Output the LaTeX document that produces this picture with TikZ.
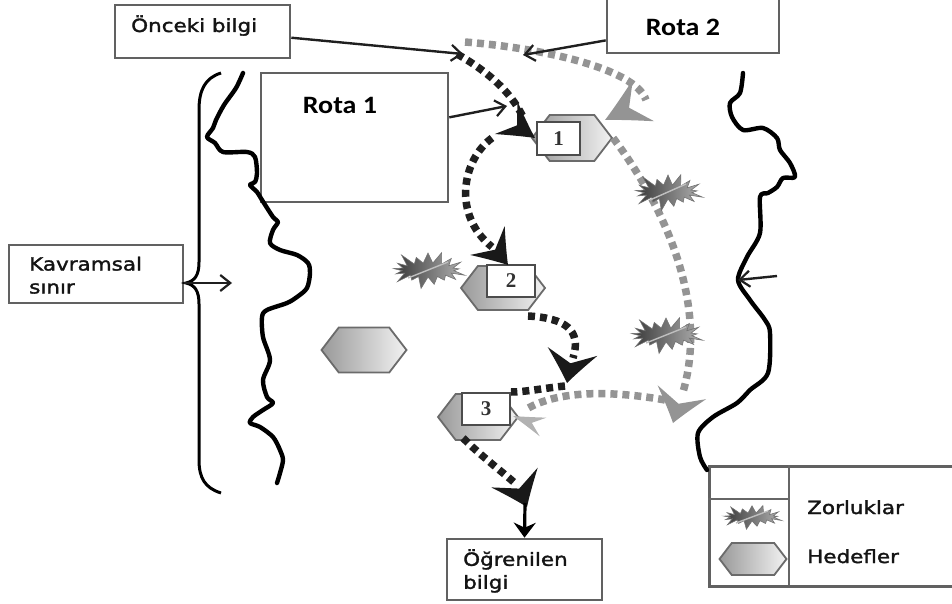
\documentclass[tikz,border=0pt]{standalone}
\usepackage{fontspec}
\setmainfont{DejaVu Sans}[FakeStretch=1.18,FakeBold=1.8]
\newfontfamily\rotafont{Carlito}[FakeStretch=1.12]
\newfontfamily\numfont{Liberation Serif}
\usetikzlibrary{arrows.meta,shapes.symbols}
\tikzset{
  barb/.pic={\fill[pic actions] (0,0) .. controls (-10,-5) and (-22,-12) .. (-32,-18) -- (-20,0) -- (-32,18) .. controls (-22,12) and (-10,5) .. (0,0) -- cycle;},
}
\begin{document}
\begin{tikzpicture}[x=1pt,y=-1pt,
  font=\fontsize{18.2}{23}\selectfont,
  box/.style={draw=black!62, line width=2.6pt, fill=white, inner sep=0pt},
  txt/.style={inner sep=0pt, text=black!92},
  rotatxt/.style={inner sep=0pt, font=\rotafont\bfseries\fontsize{25}{25}\selectfont},
  numbox/.style={draw=black!70, line width=2pt, fill=white, inner sep=0pt, font=\numfont\bfseries\fontsize{21}{21}\selectfont, text=black!80},
  hexa/.style={signal, signal to=west and east, signal pointer angle=105, draw=black!58, line width=1.8pt, left color=black!40, right color=black!5, inner sep=0pt},
  burst/.style={starburst, starburst points=17, starburst point height=14pt, draw=black!55, line width=0.6pt, left color=black!78, right color=black!30, inner sep=0pt},
  streak/.style={draw=white!75!black, line width=1.4pt},
  broute/.style={line width=7.5pt, draw=black!88, dash pattern=on 7pt off 5pt},
  groute/.style={line width=7.5pt, draw=black!42, dash pattern=on 7pt off 5pt},
  coast/.style={line width=4.4pt, line join=round, line cap=round},
  pointer/.style={line width=2.4pt, draw=black!88, -{Straight Barb[length=10pt,width=16pt,line width=2.2pt]}},
]
\useasboundingbox (0,0) rectangle (952,604);
\clip (0,0) rectangle (952,604);

% text boxes
\node[box, minimum width=175pt, minimum height=53pt] (onceki) at (202.5,31.5) {};
\node[txt, anchor=base west] (oncekit) at (131,32) {Önceki bilgi};
\node[box, minimum width=172pt, minimum height=56pt] (r2box) at (693,25) {};
\node[rotatxt] (r2) at (683,27) {Rota 2};
\node[box, minimum width=187pt, minimum height=129pt] (r1box) at (354.5,137.5) {};
\node[rotatxt] (r1) at (340,105) {Rota 1};
\node[box, minimum width=174pt, minimum height=58pt] (kav) at (96,274) {};
\node[txt, anchor=north west, align=left] (kavt) at (29,256.5) {Kavramsal\\sınır};
\node[box, minimum width=155pt, minimum height=61pt] (out) at (524.5,569.5) {};
\node[txt, anchor=north west, align=left] (outt) at (463,549) {Öğrenilen\\bilgi};

% legend
\node[box, minimum width=252pt, minimum height=120pt, anchor=north west] (legend) at (708,465) {};
\draw[line width=2.4pt, draw=black!60] (789,465) -- (789,585);
\draw[line width=2.4pt, draw=black!60] (708,499) -- (789,499);
\node[burst, minimum width=64pt, minimum height=28pt, starburst point height=10pt] (lstar) at (752,517) {};
\draw[streak] ([shift={(-16,6)}]lstar.center) -- ([shift={(16,-6)}]lstar.center);
\node[hexa, minimum width=67pt, minimum height=32pt] (lhex) at (753,559) {};
\node[txt, anchor=base west] (lz) at (807,514) {Zorluklar};
\node[txt, anchor=base west] (lh) at (807,563) {Hedefler};

% conceptual boundaries
\draw[coast] plot[smooth, tension=0.5] coordinates {(243,73) (236,88) (224,105) (216,120) (213,128) (207,137) (215,143) (223,152) (247,152) (255,157) (257,173) (255,182) (250,185) (257,192) (262,200) (273,217) (278,222) (273,230) (270,243) (280,250) (297,255) (308,263) (310,273) (307,288) (297,297) (287,303) (267,310) (262,317) (263,337) (270,360) (263,380) (267,397) (273,403) (263,410) (253,417) (250,423) (260,427) (273,437) (280,450) (283,460) (280,473) (277,483)};
\draw[coast] plot[smooth, tension=0.5] coordinates {(743,73) (740,93) (730,103) (732,117) (743,130) (763,128) (777,138) (780,150) (790,163) (795,177) (783,178) (777,187) (768,193) (760,197) (760,233) (747,257) (738,280) (750,300) (765,320) (770,333) (768,373) (750,390) (737,403) (713,417) (698,433) (700,457) (707,470)};
% brace
\draw[line width=3pt] (221,73) .. controls (205,78) and (199,90) .. (199,110) -- (199,262) .. controls (199,275) and (195,281) .. (186,283) .. controls (195,285) and (199,291) .. (199,304) -- (199,460) .. controls (199,478) and (205,488) .. (221,493);

% goals
\node[hexa, minimum width=85pt, minimum height=45pt] (hx) at (364,350) {};
\node[hexa, minimum width=80pt, minimum height=46pt] (h1) at (572,138) {};
\node[hexa, minimum width=84pt, minimum height=44pt] (h2) at (503,288) {};
\node[hexa, minimum width=80pt, minimum height=46pt] (h3) at (478,417) {};
\node[numbox, minimum width=43pt, minimum height=33pt] (n1) at (558.5,138.5) {1};
\node[numbox, minimum width=48pt, minimum height=32pt] (n2) at (511,281) {2};
\node[numbox, minimum width=48pt, minimum height=32pt] (n3) at (486,409) {3};

% route 2 (gray)
\coordinate (gs) at (465,42);
\coordinate (g1e) at (646,100);
\coordinate (g2e) at (683,392);
\coordinate (g3s) at (665,400);
\coordinate (g3e) at (525,410);
\draw[groute] (gs) .. controls (540,48) and (635,68) .. (g1e);
\pic[fill=black!42, rotate=-153, xscale=1.35, yscale=1.3] at (605,120) {barb};
\draw[groute] (h1.east) .. controls (660,200) and (710,300) .. (g2e);
\pic[fill=black!42, rotate=-106, yscale=1.4] at (673,423) {barb};
\draw[groute] (g3s) .. controls (620,392) and (560,388) .. (g3e);
\pic[fill=black!30, rotate=160, yscale=0.55] at (513,416) {barb};

% route 1 (black)
\coordinate (bs) at (457,54);
\coordinate (b1e) at (523,117);
\coordinate (b2s) at (492,138);
\coordinate (b2e) at (492,247);
\coordinate (b3s) at (528,316);
\coordinate (b3e) at (573,358);
\coordinate (b4s) at (565,386);
\coordinate (b5s) at (463,438);
\coordinate (b5e) at (516,484);
\coordinate (dtip) at (525,503);
\draw[broute] (bs) .. controls (485,70) and (510,90) .. (b1e);
\pic[fill=black!90, rotate=-35, scale=1.1] at (535,138) {barb};
\draw[broute] (b2s) .. controls (462,160) and (452,215) .. (b2e);
\pic[fill=black!90, rotate=-50, yscale=1.25] at (508,265) {barb};
\draw[broute] (b3s) .. controls (565,318) and (582,330) .. (b3e);
\pic[fill=black!90, rotate=-100, yscale=1.4] at (567,383) {barb};
\draw[broute] (b4s) .. controls (545,388) and (525,392) .. (n3.north east);
\draw[broute] (b5s) .. controls (480,455) and (500,470) .. (b5e);
\pic[fill=black!90, rotate=-67, yscale=1.4] at (527,507) {barb};
\draw[line width=3.2pt, -{Stealth[length=15pt,width=22pt,inset=5pt]}] (dtip) -- (out.north);

% difficulties
\node[burst, minimum width=80pt, minimum height=42pt] (sA) at (428,270) {};
\draw[streak] ([shift={(-20,8)}]sA.center) -- ([shift={(20,-8)}]sA.center);
\node[burst, minimum width=76pt, minimum height=42pt] (sB) at (668,192) {};
\draw[streak] ([shift={(-18,8)}]sB.center) -- ([shift={(18,-8)}]sB.center);
\node[burst, minimum width=80pt, minimum height=42pt] (sC) at (666,335) {};
\draw[streak] ([shift={(-20,8)}]sC.center) -- ([shift={(20,-8)}]sC.center);

% pointers
\coordinate (otip) at (463,54);
\coordinate (r1tip) at (507,106);
\coordinate (r2tip) at (523,55);
\coordinate (kavtip) at (232,283);
\coordinate (rbs) at (777,276);
\coordinate (rbt) at (738,280);
\draw[pointer] (onceki.-4) -- (otip);
\draw[pointer] (r1box.12) -- (r1tip);
\draw[pointer] (r2box.190) -- (r2tip);
\draw[pointer, line width=1.5pt] (kavtip -| kav.east) -- (kavtip);
\draw[pointer] (rbs) -- (rbt);
\end{tikzpicture}
\end{document}
